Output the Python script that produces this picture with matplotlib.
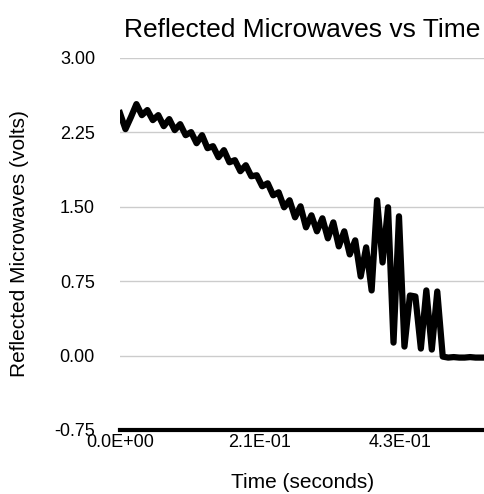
import matplotlib
matplotlib.use("Agg")
import matplotlib.pyplot as plt
import numpy as np

plt.rcParams['font.family'] = ['Liberation Sans', 'DejaVu Sans']

# Sample period (s) of the recorded signal
sample_period = 0.0084

# Reflected microwave voltage (V), one value per sample
voltage = [
    2.444, 2.283, 2.404, 2.535, 2.424, 2.475, 2.374, 2.424, 2.313, 2.384,
    2.273, 2.333, 2.222, 2.253, 2.141, 2.222, 2.091, 2.111, 2.000, 2.071,
    1.949, 1.970, 1.859, 1.919, 1.808, 1.818, 1.707, 1.737, 1.616, 1.646,
    1.495, 1.566, 1.394, 1.505, 1.293, 1.414, 1.253, 1.384, 1.182, 1.343,
    1.101, 1.253, 1.020, 1.162, 0.798, 1.091, 0.657, 1.566, 0.939, 1.495,
    0.131, 1.404, 0.091, 0.606, 0.596, 0.071, 0.657, 0.061, 0.646, -0.010,
    -0.020, -0.015, -0.020, -0.020, -0.015, -0.020, -0.020,
]
time_s = np.arange(len(voltage)) * sample_period

y_ticks = [-0.75, 0.00, 0.75, 1.50, 2.25, 3.00]
x_ticks = [0.0, 0.215, 0.43]
x_tick_labels = ["0.0E+00", "2.1E-01", "4.3E-01"]

W, H = 485, 494
fig = plt.figure(figsize=(W / 100, H / 100), dpi=100)
ax = fig.add_axes([120 / W, 64 / H, 365 / W, 372 / H])

ax.plot(time_s, voltage, color='black', lw=4.5, solid_joinstyle='round', zorder=3)

ax.set_xlim(0, 0.5605)
ax.set_ylim(-0.75, 3.0)
ax.set_yticks(y_ticks)
ax.set_yticklabels([f"{v:.2f}" for v in y_ticks])
ax.set_xticks(x_ticks)
ax.set_xticklabels(x_tick_labels)

ax.yaxis.grid(True, color='#cccccc', lw=1.0)
ax.set_axisbelow(True)
for s in ['left', 'top', 'right']:
    ax.spines[s].set_visible(False)
ax.spines['bottom'].set_linewidth(3)
ax.spines['bottom'].set_color('black')
ax.spines['bottom'].set_zorder(4)

ax.tick_params(axis='y', length=0, pad=18, labelsize=13)
ax.tick_params(axis='x', length=0, pad=3, labelsize=13)

ax.set_title("Reflected Microwaves vs Time", fontsize=19, pad=15)
ax.set_xlabel("Time (seconds)", fontsize=15, labelpad=16)
ax.set_ylabel("Reflected Microwaves (volts)", fontsize=15, labelpad=18)

fig.savefig("out.png", dpi=100)
